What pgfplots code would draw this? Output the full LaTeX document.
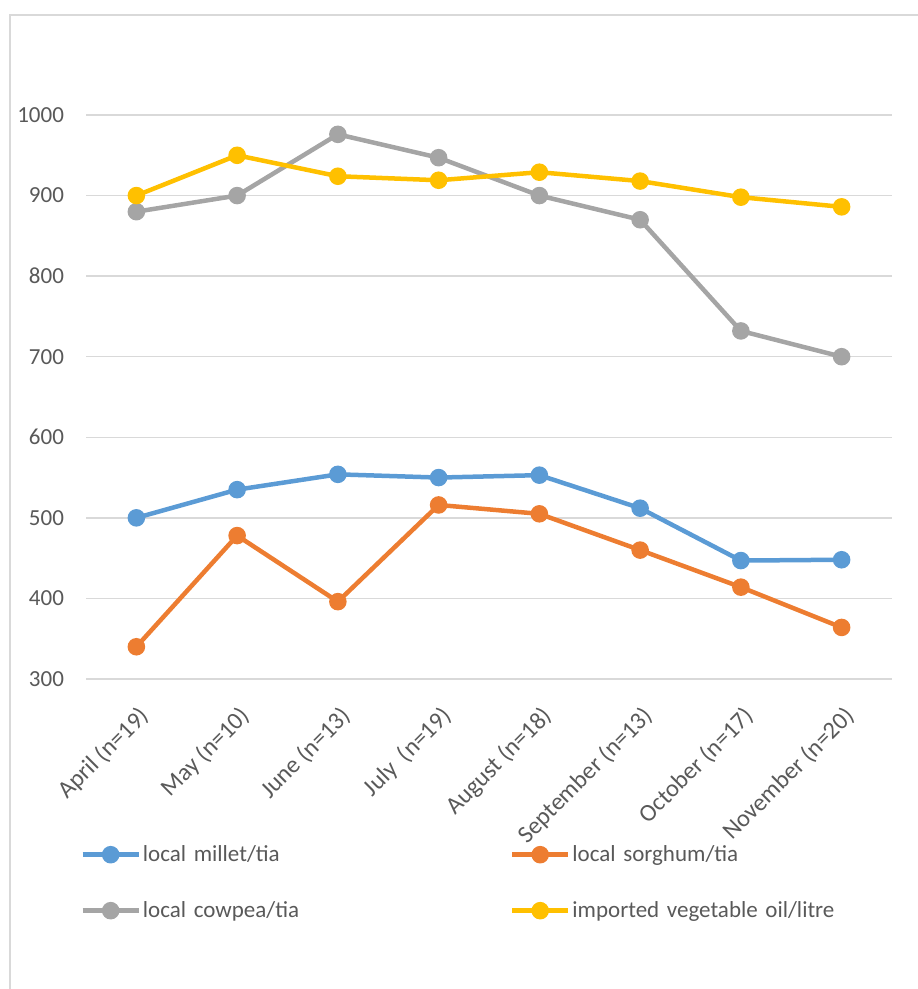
\documentclass[border=0pt]{standalone}
\usepackage{pgfplots}
\pgfplotsset{compat=1.18}
\usepackage{fontspec}
\setmainfont{Carlito}
\definecolor{cblue}{HTML}{5B9BD5}
\definecolor{corange}{HTML}{ED7D31}
\definecolor{cgray}{HTML}{A5A5A5}
\definecolor{cyellow}{HTML}{FFC000}
\definecolor{txt}{HTML}{595959}
\definecolor{gridc}{HTML}{D9D9D9}
\begin{document}
\begin{tikzpicture}
\useasboundingbox (0,0) rectangle (458.5pt,494.5pt);
\draw[gridc, line width=0.75pt] (5pt,-1pt) -- (5pt,487pt) -- (460pt,487pt);
\begin{axis}[
  at={(43pt,155pt)}, anchor=south west,
  width=403pt, height=282pt, scale only axis,
  xmin=-0.5, xmax=7.5, ymin=300, ymax=1000,
  xtick={0,...,7},
  xticklabels={April (n=19), May (n=10), June (n=13), July\ \ (n=19), August (n=18), September (n=13), October (n=17), November (n=20)},
  ytick={300,400,...,1000},
  ymajorgrids, grid style={gridc, line width=0.75pt},
  axis line style={draw=none},
  major tick style={draw=none},
  /pgf/number format/assume math mode=true,
  /pgf/number format/set thousands separator={},
  tick label style={font=\fontsize{11.5pt}{13.5pt}\selectfont, text=txt},
  yticklabel style={xshift=-7.5pt},
  xticklabel style={font=\fontsize{12.2pt}{14pt}\selectfont, rotate=45, anchor=east, inner sep=1pt, xshift=-7.5pt, yshift=-15pt},
  legend columns=2,
  legend cell align=left,
  legend image code/.code={\draw[#1, mark repeat=2, mark phase=2] plot coordinates {(0pt,0pt) (14pt,0pt) (28pt,0pt)};},
  legend style={at={(axis description cs:-0.0074,-0.294)}, anchor=north west, draw=none, fill=none,
    font=\fontsize{11.5pt}{13.5pt}\selectfont, text=txt, inner sep=0pt, row sep=18.5pt,
    nodes={inner xsep=1pt, inner ysep=0pt},
    /tikz/every even column/.append style={text width=182.5pt}},
]
\addplot[cblue, line width=2.25pt, mark=*, mark size=3.25pt, mark options={solid, fill=cblue, draw=cblue}] coordinates {
(0,500) (1,535) (2,554) (3,550) (4,553) (5,512) (6,447) (7,448)};
\addlegendentry{local millet/tia}
\addplot[corange, line width=2.25pt, mark=*, mark size=3.25pt, mark options={solid, fill=corange, draw=corange}] coordinates {
(0,340) (1,478) (2,396) (3,516) (4,505) (5,460) (6,414) (7,364)};
\addlegendentry{local sorghum/tia}
\addplot[cgray, line width=2.25pt, mark=*, mark size=3.25pt, mark options={solid, fill=cgray, draw=cgray}] coordinates {
(0,880) (1,900) (2,976) (3,947) (4,900) (5,870) (6,732) (7,700)};
\addlegendentry{local cowpea/tia}
\addplot[cyellow, line width=2.25pt, mark=*, mark size=3.25pt, mark options={solid, fill=cyellow, draw=cyellow}] coordinates {
(0,900) (1,950) (2,924) (3,919) (4,929) (5,918) (6,898) (7,886)};
\addlegendentry{imported vegetable oil/litre}
\end{axis}
\end{tikzpicture}
\end{document}
